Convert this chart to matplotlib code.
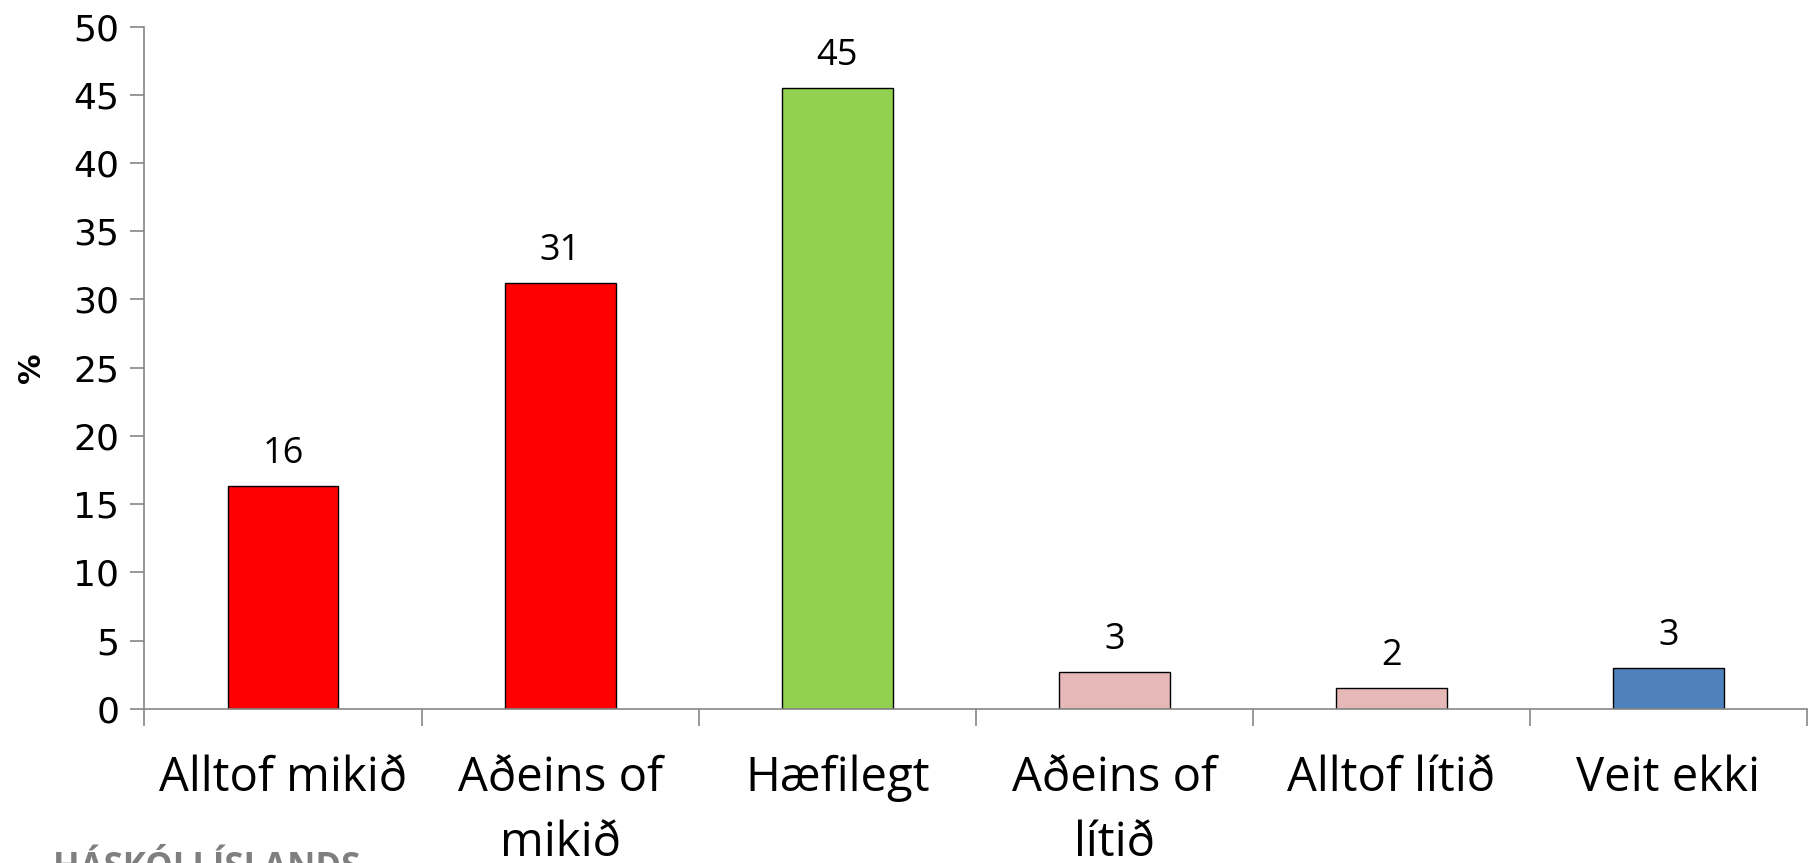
import matplotlib.pyplot as plt

# data
categories = ['Alltof mikið', 'Aðeins of\nmikið', 'Hæfilegt', 'Aðeins of\nlítið', 'Alltof lítið', 'Veit ekki']
values = [16.3, 31.2, 45.5, 2.7, 1.5, 3.0]
labels = ['16', '31', '45', '3', '2', '3']
colors = ['#FF0000', '#FF0000', '#92D050', '#E6B9B8', '#E6B9B8', '#4F81BD']

fig = plt.figure(figsize=(18.13, 8.63), dpi=100)
ax = fig.add_axes([0.0797, 0.1787, 0.917, 0.7905])

x = range(len(categories))
ax.bar(x, values, width=0.4, color=colors, edgecolor='black', linewidth=1)

for i, v in enumerate(values):
    ax.text(i, v + 1.7, labels[i], ha='center', va='baseline', fontsize=26, family='Open Sans')

ax.set_xlim(-0.5, len(categories) - 0.5)
ax.set_ylim(0, 50)
ax.set_yticks(range(0, 51, 5))
ax.tick_params(axis='y', labelsize=26, length=10, color='#868686', width=1.2, pad=8)

ax.set_xticks(list(x))
ax.set_xticklabels(categories, fontsize=34, family='Open Sans', linespacing=1.47)
ax.tick_params(axis='x', length=0, pad=33)
ax.set_xticks([i - 0.5 for i in range(len(categories) + 1)], minor=True)
ax.tick_params(axis='x', which='minor', length=12, color='#868686', width=1.2)

for s in ['top', 'right']:
    ax.spines[s].set_visible(False)
for s in ['left', 'bottom']:
    ax.spines[s].set_color('#868686')
    ax.spines[s].set_linewidth(1.2)

ax.set_ylabel('%', fontsize=22, fontweight='bold', labelpad=20)

# logo text, mostly cut off at the bottom edge
fig.text(0.029, -0.0174, 'HÁSKÓLI ÍSLANDS', ha='left', va='baseline', fontsize=25,
         fontweight='bold', color='#7F7F7F', family='Open Sans')

fig.savefig('out.png', dpi=100)
